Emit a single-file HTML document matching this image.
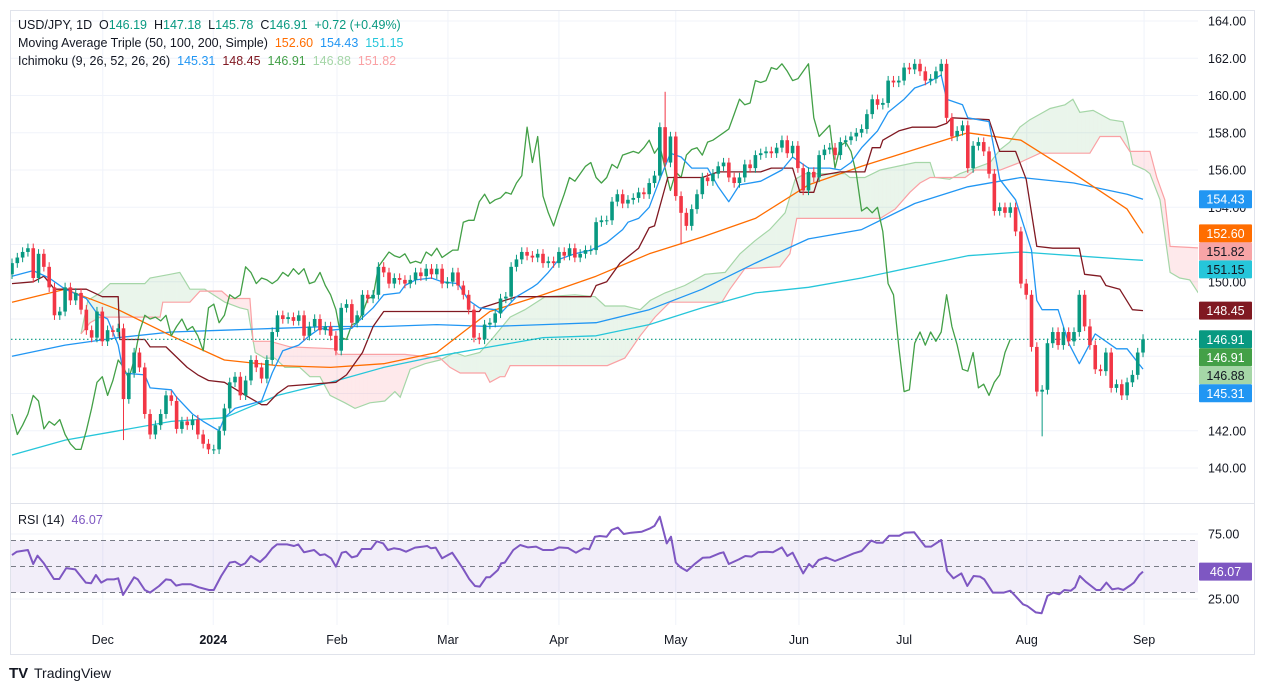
<!DOCTYPE html>
<html><head><meta charset="utf-8">
<style>
html,body{margin:0;padding:0;background:#fff;}
svg{display:block;font-family:"Liberation Sans",sans-serif;}
</style></head>
<body>
<svg id="chart" width="1265" height="691" viewBox="0 0 1265 691" xmlns="http://www.w3.org/2000/svg">
<rect x="0" y="0" width="1265" height="691" fill="#ffffff"/>
<rect x="10.5" y="10.5" width="1244" height="644" fill="none" stroke="#e0e3eb"/>
<g id="grid"></g>
<g id="cloud"></g>
<g id="lines"></g>
<g id="candles"></g>
<g id="rsi"></g>
<g id="axes"></g>
<g font-size="12.5">
  <text x="18" y="29" fill="#131722">USD/JPY, 1D&#160; O<tspan fill="#089981">146.19</tspan>&#160; H<tspan fill="#089981">147.18</tspan>&#160; L<tspan fill="#089981">145.78</tspan>&#160; C<tspan fill="#089981">146.91</tspan>&#160; <tspan fill="#089981">+0.72 (+0.49%)</tspan></text>
  <text x="18" y="47" fill="#131722">Moving Average Triple (50, 100, 200, Simple)&#160; <tspan fill="#ff6d00">152.60</tspan>&#160; <tspan fill="#2196f3">154.43</tspan>&#160; <tspan fill="#26c6da">151.15</tspan></text>
  <text x="18" y="65" fill="#131722">Ichimoku (9, 26, 52, 26, 26)&#160; <tspan fill="#2196f3">145.31</tspan>&#160; <tspan fill="#801922">148.45</tspan>&#160; <tspan fill="#43a047">146.91</tspan>&#160; <tspan fill="#a5d6a7">146.88</tspan>&#160; <tspan fill="#faa1a4">151.82</tspan></text>
  <text x="18" y="524" fill="#131722">RSI (14)&#160; <tspan fill="#7e57c2">46.07</tspan></text>
</g>
<g>
  <text x="9" y="678" font-size="15" font-weight="bold" fill="#131722">TV</text>
  <text x="34" y="678" font-size="14" fill="#131722">TradingView</text>
</g>
</svg>
<script>
// ---------- data ----------
const closes = [151.0,151.3,151.6,151.8,150.2,151.5,150.8,149.7,148.2,148.4,
149.7,149.0,149.4,148.5,147.4,147.0,148.4,146.8,147.4,147.3,
147.5,143.7,145.1,146.2,145.4,142.9,141.8,142.3,142.9,143.9,
143.6,142.1,142.5,142.3,142.6,141.8,141.3,141.0,141.0,142.0,
143.2,144.6,144.9,143.9,144.7,145.8,145.4,144.8,145.8,147.3,
148.2,148.0,148.1,147.9,148.2,147.1,147.6,148.0,147.4,147.6,
147.1,146.3,148.6,148.8,147.8,148.2,149.3,149.1,149.3,150.8,
150.5,149.9,150.2,150.1,149.9,150.1,150.5,150.3,150.7,150.4,
150.7,149.9,150.0,150.5,149.8,149.3,148.5,147.0,146.9,147.7,
147.8,148.3,149.1,149.2,150.8,151.2,151.6,151.4,151.3,151.5,
151.0,151.1,151.0,151.6,151.4,151.8,151.3,151.5,151.7,151.7,
153.2,153.3,153.3,154.3,154.7,154.2,154.4,154.5,154.8,154.7,
155.3,155.7,158.3,156.4,157.8,154.6,153.7,153.0,153.9,154.7,
155.6,155.4,155.8,156.2,156.4,155.6,155.3,155.6,156.3,156.1,
156.8,156.9,157.0,156.9,157.2,157.6,156.9,157.3,156.1,154.9,
155.9,155.6,156.8,157.1,157.2,156.8,157.5,157.6,157.8,158.0,
158.2,159.0,159.8,159.5,159.6,160.8,160.7,160.8,161.5,161.4,
161.7,161.3,160.8,160.9,161.3,161.7,158.8,157.8,158.1,158.4,
156.1,157.3,157.5,157.0,155.8,153.8,154.0,153.7,154.0,152.7,
149.9,149.3,146.5,144.1,144.2,146.7,147.3,146.6,147.3,146.8,
147.3,149.3,147.6,146.6,145.3,145.2,146.2,144.3,144.5,143.9,
144.6,145.0,146.2,146.91];
const firstOpen = 150.4;
const spikes = [{i:21,low:141.5},{i:123,high:160.2},{i:126,low:152.0},{i:194,low:141.7},{i:203,high:148.0},{i:213,high:147.18}];
const sma50 = [[0,148.9],[10,149.6],[20,148.5],[30,147.1],[40,145.8],[50,145.5],[60,145.4],[70,145.6],[80,146.2],[90,148.4],[100,149.3],[110,150.3],[120,151.5],[130,152.4],[140,153.4],[150,155.2],[160,156.2],[170,157.1],[180,158.0],[190,157.6],[200,155.8],[210,153.9],[213,152.6]];
const sma100 = [[0,146.0],[10,146.6],[20,147.0],[30,147.3],[40,147.4],[50,147.5],[60,147.6],[70,147.6],[80,147.7],[90,147.6],[100,147.7],[110,147.8],[120,148.5],[130,149.6],[140,151.0],[150,152.3],[160,152.8],[170,154.2],[180,155.1],[190,155.6],[200,155.3],[210,154.7],[213,154.43]];
const sma200 = [[0,140.7],[10,141.5],[20,142.0],[30,142.5],[40,142.7],[50,143.9],[60,144.6],[70,145.4],[80,146.0],[90,146.5],[100,147.0],[110,147.1],[120,147.7],[130,148.6],[140,149.4],[150,149.7],[160,150.2],[170,150.8],[180,151.4],[190,151.6],[200,151.4],[210,151.2],[213,151.15]];
const tenkan = [[0,150.3],[4,150.6],[7,150.2],[10,149.6],[14,149.1],[16,148.3],[18,148.0],[20,146.6],[21,145.1],[25,145.0],[26,144.3],[30,144.2],[31,143.8],[34,142.9],[36,142.5],[39,142.0],[40,142.7],[42,143.2],[47,143.6],[49,145.1],[51,146.3],[54,146.6],[56,147.1],[58,147.5],[60,147.4],[64,147.5],[65,147.8],[68,148.6],[70,149.3],[73,149.4],[74,149.8],[76,150.1],[79,150.2],[81,150.0],[84,149.9],[86,149.0],[88,148.6],[91,148.5],[92,148.3],[95,149.2],[98,149.7],[99,149.9],[101,150.5],[103,151.2],[106,151.5],[109,151.7],[112,152.1],[115,152.8],[116,153.2],[118,153.4],[120,154.0],[122,155.5],[124,156.9],[126,156.7],[128,156.1],[131,156.1],[133,155.1],[135,154.3],[137,155.2],[141,155.4],[145,156.0],[147,156.7],[148,156.5],[150,156.1],[154,156.1],[156,156.0],[158,156.4],[160,157.2],[162,157.8],[163,158.1],[165,159.1],[168,159.8],[170,160.4],[172,160.6],[175,161.1],[176,159.8],[179,159.5],[180,158.8],[184,158.6],[186,155.5],[189,154.4],[192,151.7],[193,149.0],[194,148.5],[197,148.5],[199,146.7],[201,145.6],[204,147.2],[208,146.4],[210,146.4],[213,145.31]];
const kijun = [[0,149.9],[4,150.0],[6,150.3],[8,149.6],[14,149.6],[17,149.2],[20,149.2],[20.3,146.9],[25,146.9],[26,146.5],[29,146.5],[33,145.4],[35,145.0],[37,144.7],[40,144.6],[44,143.9],[47,143.4],[48,143.4],[50,144.0],[52,144.4],[61,144.6],[63,145.0],[66,146.2],[68,147.6],[70,148.4],[88,148.4],[88.5,148.6],[95,149.2],[109,149.2],[110,149.8],[112,150.0],[114.5,151.0],[118,151.8],[120,152.9],[121,153.0],[123.5,155.6],[130,155.6],[133,155.9],[141,155.9],[143,156.1],[147,156.1],[148.4,154.8],[151,154.8],[152,155.7],[156,155.9],[160.6,155.9],[162,157.2],[163.5,157.2],[164,157.6],[167,158.1],[169.5,158.3],[174,158.3],[176,158.5],[177,158.8],[184,158.7],[186,157.0],[189,157.0],[191,155.5],[193,151.9],[196,151.8],[201,151.8],[202,150.4],[205,150.3],[206,149.8],[208.6,149.6],[211,148.5],[213,148.45]];
const spanA = [[13,147.2],[14.3,149.0],[16.6,149.4],[18.5,149.9],[25,149.9],[26,150.2],[27.9,150.3],[29.8,150.4],[31.6,150.5],[33.5,149.6],[36.3,149.6],[40.1,148.9],[42.9,148.6],[44.4,148.5],[45.8,146.2],[47.6,145.9],[49.5,145.9],[51.4,145.4],[54.2,145.4],[56.1,144.9],[58,144.9],[59.9,143.9],[62.7,143.5],[64.6,143.2],[67.4,143.5],[70.2,143.6],[72.1,144.1],[73.1,143.8],[75,145.3],[77.8,145.6],[80.6,145.8],[83.4,146.2],[85.3,146.0],[88.1,146.2],[90.6,147.0],[93.8,148.1],[96.6,148.5],[100.4,149.2],[106,149.3],[109.8,149.2],[111.7,148.7],[115.4,148.7],[118.3,148.5],[120.2,149.0],[123,149.4],[126.7,149.8],[130.5,150.4],[134.3,150.5],[137.1,151.5],[139.9,152.2],[142.7,152.8],[145.6,153.7],[147.5,155.5],[149.3,155.8],[156.9,155.8],[157.8,155.6],[160.6,155.6],[163.5,156.0],[170.1,156.4],[172.9,156.4],[173.8,155.6],[176.6,155.5],[178.5,155.8],[181.4,156.1],[184.2,156.4],[186.1,157.1],[187.9,157.5],[189.8,158.3],[191.7,158.7],[193.6,159.0],[195.5,159.3],[198.3,159.5],[199.8,159.8],[201.1,159.1],[203.6,159.2],[204.9,159.0],[206.8,158.7],[209.2,158.6],[210,157.8],[211.1,156.3],[213.4,156.0],[214.3,155.8],[216.2,154.4],[218.1,150.5],[219.9,150.2],[221.8,150.1],[223.4,149.4]];
const spanB = [[13,147.2],[14.7,147.8],[16.6,148.1],[27.9,148.1],[28.4,148.9],[33.5,148.9],[35.4,149.5],[39.5,149.5],[41.1,149.1],[44.8,149.1],[45.4,146.8],[48.6,146.8],[52.4,146.5],[60.8,146.4],[61.4,146.1],[74,146.1],[80.6,145.9],[82.5,145.4],[84.4,145.1],[89.1,145.1],[90,144.6],[91.9,144.9],[92.8,144.9],[93.8,145.5],[112.1,145.5],[115.4,145.9],[118.3,147.1],[121.1,148.1],[123.9,148.9],[133.7,148.9],[135.2,149.6],[138,150.7],[144.6,150.8],[146.5,151.5],[147.8,153.4],[163.5,153.4],[166.3,153.9],[169.1,154.8],[171,155.3],[172.9,155.6],[179.5,155.6],[181.4,156.0],[186.1,156.0],[189.8,156.4],[193.6,156.9],[203,156.9],[204.9,157.8],[208.7,157.8],[210.5,157.0],[214.3,157.0],[215.6,155.6],[217.1,154.4],[218.1,151.9],[223.4,151.82]];
const chikouShift = 25;
const rsiData = [[0,58.8],[0.9,61.4],[3,62.7],[4,51.9],[4.8,58.3],[6,52.4],[7.9,40.4],[8.9,40.4],[10.2,48.8],[11.9,47.8],[13.9,37.6],[14.9,37.1],[15.8,43.5],[16.8,37.6],[17.9,40.1],[19.2,40.1],[20,40.9],[20.9,28.1],[23,41.7],[23.7,40.1],[25,31.9],[26,29.9],[27.7,35],[29,40.1],[29.9,39.6],[30.9,35.3],[32,36.3],[33.7,36.3],[35.2,34],[37.1,31.9],[38,31.9],[39.4,42.7],[41,53],[42,53.7],[43.1,50.9],[43.9,52.4],[45,58.1],[46.7,53.5],[47.8,57.6],[49,64],[49.9,67],[51.8,67],[53.1,65.8],[53.9,67],[55,60.9],[56.9,62.7],[58,58.8],[58.9,59.4],[60.1,56.3],[61,49.9],[62.1,60.6],[62.9,61.4],[64,57],[65,58.1],[65.9,63.5],[67.6,63.5],[68.7,69.4],[69.9,67.8],[70.8,62.7],[71.9,64],[73.1,63.2],[74.2,61.4],[75.9,64.5],[77.4,65.3],[78.2,65.8],[78.9,64],[79.8,64.5],[81,56.3],[82.9,60.6],[84.9,48.6],[86.1,40.4],[87.2,35],[88.1,34.5],[89.3,41.7],[90,41.7],[91.5,47.3],[92.1,52.4],[92.8,53],[94.4,62.7],[95.7,66.5],[97.2,64.7],[98.7,65.3],[100,62.7],[101.9,62.7],[103,64.7],[104.7,64.2],[106.2,60.6],[107.7,64],[108.7,63.2],[109.8,72.9],[110.7,73.5],[112,72.9],[112.9,78],[114.1,79.9],[115.2,75],[116.6,76],[118.6,76.8],[120.2,79.4],[121,81.2],[122,88.3],[123.3,67.8],[124.1,72.9],[125,53],[125.9,49.4],[127.1,46.5],[128.7,52.4],[130.1,56.8],[131.4,57],[133.2,60.1],[134,60.9],[135,51.9],[136.9,55.5],[138.1,58.1],[139.3,57.6],[140.5,60.9],[142.1,61.4],[143.3,60.9],[145,64.7],[146,58.1],[147,60.6],[149,44.7],[150.1,51.9],[150.8,49.4],[151.9,55],[153.3,57],[155,54.2],[156.7,57],[158.5,60.1],[160,61.9],[161.8,69.9],[162.8,68.3],[164,68.3],[165.2,73.7],[167.1,73.7],[168.1,76],[169.9,76.3],[172,65.3],[173.1,65.3],[175,70.4],[176.1,46.5],[177.3,40.9],[178.8,44.7],[179.9,35],[181.1,42.7],[182.3,42.2],[183.1,40.1],[184.7,29.9],[186.8,29.9],[188,31.4],[188.8,28.1],[190.4,20.9],[191.2,19.6],[192.8,14.7],[193.9,14],[195,27.3],[196.1,29.9],[197.2,28.6],[198.2,31.9],[199.4,31.4],[200.2,34],[201.1,42.7],[202.2,38.3],[204.2,31.9],[205,31.9],[206.1,37.6],[207.2,32.4],[208.3,33.2],[209.3,31.9],[210.7,35.8],[211.3,37.6],[212.3,43.5],[213,46.07]];
const priceTicks = [164,162,160,158,156,154,150,144,142,140];
const gridPrices = [164,162,160,158,156,154,152,150,148,146,144,142,140];
const rsiTicks = [75,25];
const monthLabels = ["Dec","2024","Feb","Mar","Apr","May","Jun","Jul","Aug","Sep"];
const monthIdx = [17.1,37.9,61.2,82.1,103,125,148.2,168,191.1,213.2];
const lastLabels = [
 {v:154.43,t:"154.43",bg:"#2196f3",fg:"#fff",name:"sma100-label"},
 {v:152.60,t:"152.60",bg:"#ff6d00",fg:"#fff",name:"sma50-label"},
 {v:151.82,t:"151.82",bg:"#f7a4a6",fg:"#131722",name:"span-b-label"},
 {v:151.15,t:"151.15",bg:"#26c6da",fg:"#131722",name:"sma200-label"},
 {v:148.45,t:"148.45",bg:"#801922",fg:"#fff",name:"kijun-label"},
 {v:146.91,t:"146.91",bg:"#089981",fg:"#fff",name:"price-label"},
 {v:146.91,t:"146.91",bg:"#43a047",fg:"#fff",name:"chikou-label"},
 {v:146.88,t:"146.88",bg:"#a5d6a7",fg:"#131722",name:"span-a-label"},
 {v:145.31,t:"145.31",bg:"#2196f3",fg:"#fff",name:"tenkan-label"}];

// ---------- scales ----------
const NS="http://www.w3.org/2000/svg";
const px = i => 12 + i*5.31;
const py = p => 21 + (164-p)*18.625;
const ry = v => 534 + (75-v)*1.3;
const PANE_R = 1198;
function mk(tag, attrs, parent){const e=document.createElementNS(NS,tag);for(const k in attrs)e.setAttribute(k,attrs[k]);parent.appendChild(e);return e;}
const svg=document.getElementById('chart');
const defs=mk('defs',{},svg);
const cp=mk('clipPath',{id:'mainclip'},defs); mk('rect',{x:11,y:11,width:PANE_R-11,height:492},cp);
const cp2=mk('clipPath',{id:'rsiclip'},defs); mk('rect',{x:11,y:505,width:PANE_R-11,height:120},cp2);

// grid
const grid=document.getElementById('grid');
gridPrices.forEach(p=>{const l=mk('line',{x1:11,x2:PANE_R,y1:py(p),y2:py(p),stroke:'#f0f3fa'},grid);

});
monthIdx.forEach(m=>{const l=mk('line',{x1:px(m),x2:px(m),y1:11,y2:625,stroke:'#f0f3fa'},grid);

});
rsiTicks.forEach(v=>{const l=mk('line',{x1:11,x2:PANE_R,y1:ry(v),y2:ry(v),stroke:'#f0f3fa'},grid);

});
const sep=mk('line',{x1:11,x2:1254,y1:503.5,y2:503.5,stroke:'#e0e3eb'},grid);



// helpers
function interp(arr,t){if(t<=arr[0][0])return arr[0][1];for(let k=1;k<arr.length;k++){if(t<=arr[k][0]){const a=arr[k-1],b=arr[k];const f=(t-a[0])/((b[0]-a[0])||1);return a[1]+f*(b[1]-a[1]);}}return arr[arr.length-1][1];}
function pathOf(arr,yf){return arr.map((d,k)=>(k?'L':'M')+px(d[0]).toFixed(1)+','+yf(d[1]).toFixed(1)).join(' ');}

// cloud
const cloud=document.getElementById('cloud'); cloud.setAttribute('clip-path','url(#mainclip)');
const t0=spanA[0][0], t1=spanA[spanA.length-1][0];
for(let t=t0;t<t1;t+=0.25){const t2=Math.min(t+0.25,t1);
 const a1=interp(spanA,t),b1=interp(spanB,t),a2=interp(spanA,t2),b2=interp(spanB,t2);
 const up=(a1+a2)>=(b1+b2);
 const q=mk('polygon',{points:`${px(t)},${py(a1)} ${px(t2)},${py(a2)} ${px(t2)},${py(b2)} ${px(t)},${py(b1)}`,fill:up?'rgba(67,160,71,0.11)':'rgba(242,54,69,0.11)',stroke:'none'},cloud);
 
 }
const sa=mk('path',{d:pathOf(spanA,py),fill:'none',stroke:'#a5d6a7','stroke-width':1.2},cloud);


const sb=mk('path',{d:pathOf(spanB,py),fill:'none',stroke:'#faa1a4','stroke-width':1.2},cloud);



// lines
const lines=document.getElementById('lines'); lines.setAttribute('clip-path','url(#mainclip)');
const chikou=[]; for(let i=0;i+chikouShift<closes.length;i++)chikou.push([i,closes[i+chikouShift]]);
[[sma200,'#26c6da','sma-200'],[sma100,'#2196f3','sma-100'],[sma50,'#ff6d00','sma-50'],[chikou,'#43a047','chikou-span'],[kijun,'#801922','kijun-sen'],[tenkan,'#2196f3','tenkan-sen']].forEach(([arr,c,n])=>{
 const p=mk('path',{d:pathOf(arr,py),fill:'none',stroke:c,'stroke-width':1.3,'stroke-linejoin':'round'},lines);
 
 });
const lastLine=mk('line',{x1:11,x2:PANE_R,y1:py(closes[closes.length-1]),y2:py(closes[closes.length-1]),stroke:'#089981','stroke-dasharray':'1.5,2.5','stroke-width':1.2},lines);



// candles
const cg=document.getElementById('candles'); cg.setAttribute('clip-path','url(#mainclip)');
closes.forEach((c,i)=>{
 const o=i?closes[i-1]:firstOpen; const up=c>=o; const col=up?'#089981':'#f23645';
 let h=Math.max(o,c)+0.25, l=Math.min(o,c)-0.25;
 spikes.forEach(s=>{if(s.i===i){if(s.high)h=s.high;if(s.low)l=s.low;}});
 const x=px(i);
 const w=mk('line',{x1:x,x2:x,y1:py(h),y2:py(l),stroke:col,'stroke-width':1},cg);
 
 
 const top=py(Math.max(o,c)), bh=Math.max(1,py(Math.min(o,c))-top);
 const b=mk('rect',{x:x-1.8,y:top,width:3.6,height:bh,fill:col},cg);
 
 });

// RSI
const rg=document.getElementById('rsi'); rg.setAttribute('clip-path','url(#rsiclip)');
const band=mk('rect',{x:11,y:ry(70),width:PANE_R-11,height:ry(30)-ry(70),fill:'rgba(126,87,194,0.1)'},rg);


[70,50,30].forEach(v=>{const l=mk('line',{x1:11,x2:PANE_R,y1:ry(v),y2:ry(v),stroke:'#787b86','stroke-dasharray':'5,4','stroke-width':1},rg);
 
 });
const rl=mk('path',{d:pathOf(rsiData,ry),fill:'none',stroke:'#7e57c2','stroke-width':2,'stroke-linejoin':'round'},rg);



// axes
const ax=document.getElementById('axes');
gridPrices.forEach(p=>{ if(priceTicks.indexOf(p)<0 && p!==150) return;
 const t=mk('text',{x:1208,y:py(p)+4.5,'font-size':12.5,fill:'#131722'},ax); t.textContent=p.toFixed(2);
 
 });
rsiTicks.forEach(v=>{const t=mk('text',{x:1208,y:ry(v)+4.5,'font-size':12.5,fill:'#131722'},ax); t.textContent=v.toFixed(2);
 
 });
monthLabels.forEach((m,k)=>{const t=mk('text',{x:px(monthIdx[k]),y:644,'font-size':12.5,'text-anchor':'middle',fill:'#131722','font-weight':m==='2024'?'bold':'normal'},ax); t.textContent=m;
 
 });
lastLabels.forEach(L=>{const g=mk('g',{},ax);
 
 
 const cy=py(L.v);});
// place labels stacked to avoid overlap
let prevY=-100;
lastLabels.forEach((L,k)=>{let cy=py(L.v); if(cy<prevY+18) cy=prevY+18; prevY=cy;
 const r=mk('rect',{x:1199,y:cy-9,width:53,height:18,rx:1,fill:L.bg},ax);
 
 
 const t=mk('text',{x:1225.5,y:cy+4.5,'font-size':12.5,'text-anchor':'middle',fill:L.fg},ax); t.textContent=L.t;
 
 });
const rb=mk('rect',{x:1199,y:ry(46.07)-9,width:53,height:18,rx:1,fill:'#7e57c2'},ax);


const rt=mk('text',{x:1225.5,y:ry(46.07)+4.5,'font-size':12.5,'text-anchor':'middle',fill:'#fff'},ax); rt.textContent='46.07';


</script>
</body></html>
